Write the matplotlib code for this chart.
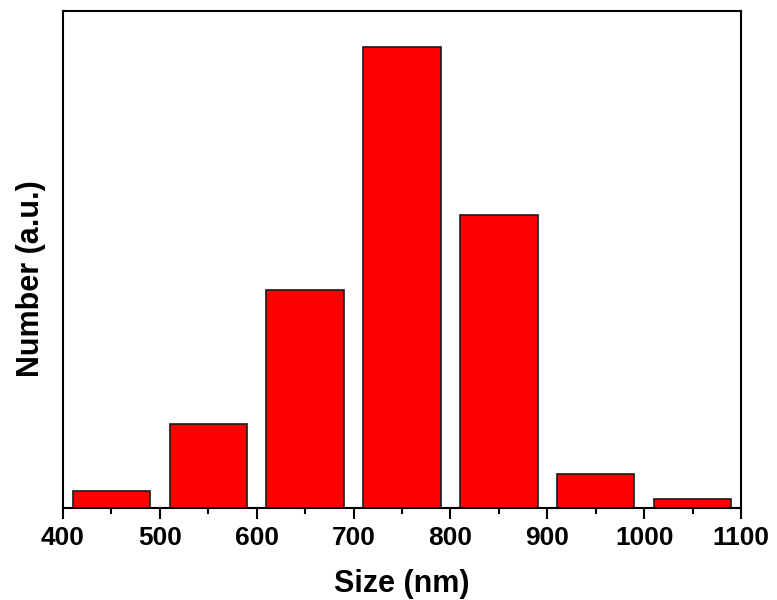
import matplotlib
matplotlib.use("Agg")
import matplotlib.pyplot as plt
from matplotlib import font_manager as fm
from matplotlib.ticker import MultipleLocator

centers = [450, 550, 650, 750, 850, 950, 1050]
counts = [3.7, 18.2, 47.2, 100, 63.5, 7.3, 1.9]
xticks = [400, 500, 600, 700, 800, 900, 1000, 1100]

fp_tick = fm.FontProperties(family=['Liberation Sans', 'DejaVu Sans'], weight='bold', size=19)
fp_lab = fm.FontProperties(family=['Liberation Sans', 'DejaVu Sans'], weight='bold', size=22)

fig = plt.figure(figsize=(7.77, 6), dpi=100)
ax = fig.add_axes([0.0811, 0.1538, 0.8726, 0.8279])
ax.bar(centers, counts, width=80, color='#ff0000', edgecolor='#1a1a1a', linewidth=1.2)
ax.set_xlim(400, 1100)
ax.set_ylim(0, 107.9)
ax.set_xticks(xticks)
ax.set_xticklabels([str(t) for t in xticks], fontproperties=fp_tick)
ax.xaxis.set_minor_locator(MultipleLocator(50))
ax.tick_params(axis='x', which='major', direction='out', length=8, width=1.5, pad=5)
ax.tick_params(axis='x', which='minor', direction='out', length=4.5, width=1.5)
ax.set_yticks([])
for s in ax.spines.values():
    s.set_linewidth(1.5)
ax.set_xlabel('Size (nm)', fontproperties=fp_lab, labelpad=14)
ax.set_ylabel('Number (a.u.)', fontproperties=fp_lab)
ax.yaxis.set_label_coords(-0.025, 0.461)
fig.savefig('out.png', dpi=100)
